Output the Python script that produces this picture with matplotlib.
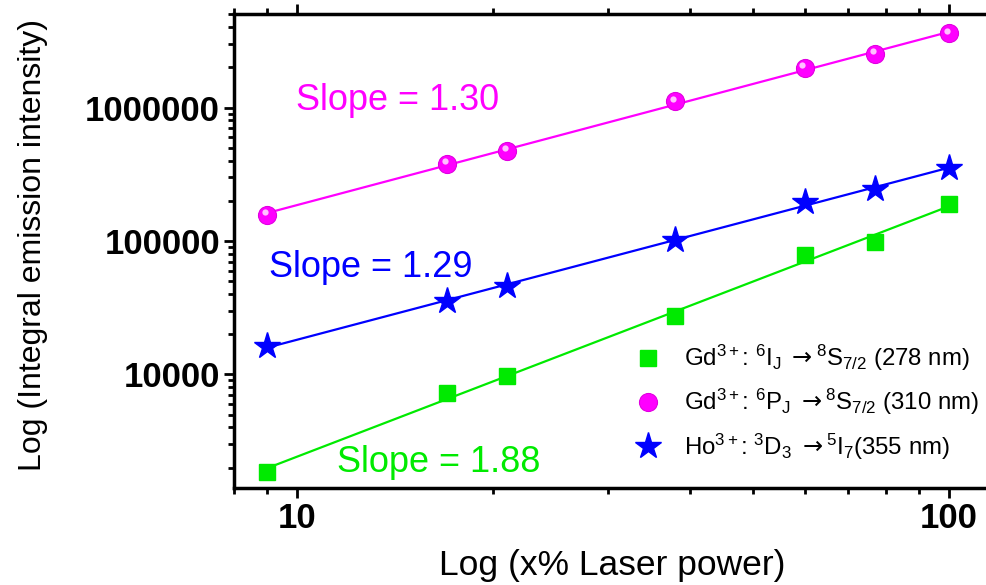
import numpy as np
import matplotlib
matplotlib.use('Agg')
import matplotlib.pyplot as plt
from matplotlib import transforms
from matplotlib.ticker import LogLocator, NullFormatter

plt.rcParams['font.family'] = ['Liberation Sans', 'DejaVu Sans']
plt.rcParams['mathtext.fontset'] = 'custom'
plt.rcParams['mathtext.rm'] = 'Liberation Sans'
plt.rcParams['mathtext.it'] = 'Liberation Sans:italic'
plt.rcParams['mathtext.bf'] = 'Liberation Sans:bold'
plt.rcParams['mathtext.sf'] = 'DejaVu Sans'

# laser power (%) and integrated emission intensity
power = [9, 17, 21, 38, 60, 77, 100]
gd_278 = [1870, 7280, 9690, 27600, 78900, 97800, 189000]
gd_310 = [157000, 380000, 476000, 1110000, 1990000, 2510000, 3600000]
ho_355 = [16300, 35300, 45700, 102000, 196000, 246000, 351000]

labels = [r'Gd$^{3+}$: $^{6}$I$_{\mathrm{J}}\ \mathsf{\rightarrow}^{8}$S$_{7/2}$ (278 nm)',
          r'Gd$^{3+}$: $^{6}$P$_{\mathrm{J}}\ \mathsf{\rightarrow}^{8}$S$_{7/2}$ (310 nm)',
          r'Ho$^{3+}$: $^{3}$D$_{3}\ \mathsf{\rightarrow}^{5}$I$_{7}$(355 nm)']
slope_txt = ['Slope = 1.88', 'Slope = 1.30', 'Slope = 1.29']

xticks = [10, 100]
xticklabels = ['10', '100']
yticks = [1e4, 1e5, 1e6]
yticklabels = ['10000', '100000', '1000000']

green = '#00ea00'
magenta = '#ff00ff'
blue = '#0000ff'

fig = plt.figure(figsize=(9.87, 5.85), dpi=100)
ax = fig.add_axes([0.237, 0.1653, 0.777, 0.8103])
ax.set_xscale('log')
ax.set_yscale('log')


def fit_line(x, y):
    lx = np.log10(x)
    ly = np.log10(y)
    k, b = np.polyfit(lx, ly, 1)
    xf = np.array([x[0], x[-1]], dtype=float)
    return xf, 10 ** (b + k * np.log10(xf))


handles = []
# Gd 278 nm
xf, yf = fit_line(power, gd_278)
ax.plot(xf, yf, color=green, lw=1.6, zorder=2)
h, = ax.plot(power, gd_278, ls='none', marker='s', ms=12, color=green, mec=green, zorder=3)
handles.append(h)

# Gd 310 nm, sphere-like markers
xf, yf = fit_line(power, gd_310)
ax.plot(xf, yf, color=magenta, lw=1.6, zorder=2)
h, = ax.plot(power, gd_310, ls='none', marker='o', ms=13, color=magenta, mec='#e000e0', mew=0.8, zorder=3)
handles.append(h)
shift = transforms.ScaledTranslation(-1.5 / 72, 2.0 / 72, fig.dpi_scale_trans)
ax.plot(power, gd_310, ls='none', marker='o', ms=4.5, color='#ffc0ff', mec='none',
        transform=ax.transData + shift, zorder=4)

# Ho 355 nm
xf, yf = fit_line(power, ho_355)
ax.plot(xf, yf, color=blue, lw=1.6, zorder=2)
h, = ax.plot(power, ho_355, ls='none', marker='*', ms=20, color=blue, mec=blue, zorder=3)
handles.append(h)

ax.set_xlim(8, 120)
ax.set_ylim(1400, 5e6)

ax.set_xticks(xticks)
ax.set_xticklabels(xticklabels, fontweight='bold')
ax.set_yticks(yticks)
ax.set_yticklabels(yticklabels, fontweight='bold')
ax.xaxis.set_minor_locator(LogLocator(base=10, subs=np.arange(2, 10)))
ax.yaxis.set_minor_locator(LogLocator(base=10, subs=np.arange(2, 10)))
ax.xaxis.set_minor_formatter(NullFormatter())
ax.yaxis.set_minor_formatter(NullFormatter())

ax.tick_params(which='both', direction='out', width=2, top=True, right=True, labelsize=25)
ax.tick_params(which='major', length=7, pad=3)
ax.tick_params(which='minor', length=4.5)
for sp in ax.spines.values():
    sp.set_linewidth(2.5)

fig.text(0.033, 0.581, 'Log (Integral emission intensity)', rotation=90,
         ha='center', va='center', fontsize=23)
fig.text(0.62, 0.017, 'Log (x% Laser power)', ha='center', va='baseline', fontsize=25.5)

fig.text(0.3414, 0.1937, slope_txt[0], color=green, fontsize=26, ha='left', va='baseline')
fig.text(0.300, 0.812, slope_txt[1], color=magenta, fontsize=26, ha='left', va='baseline')
fig.text(0.2725, 0.527, slope_txt[2], color=blue, fontsize=26, ha='left', va='baseline')

ax.legend(handles, labels, loc='upper left', bbox_to_anchor=(636.2 / 987, 0.4135),
          bbox_transform=fig.transFigure, frameon=False, fontsize=17.3,
          handlelength=1.0, handletextpad=1.0, labelspacing=0.58,
          borderpad=0, borderaxespad=0)

fig.savefig('out.png', dpi=100)
